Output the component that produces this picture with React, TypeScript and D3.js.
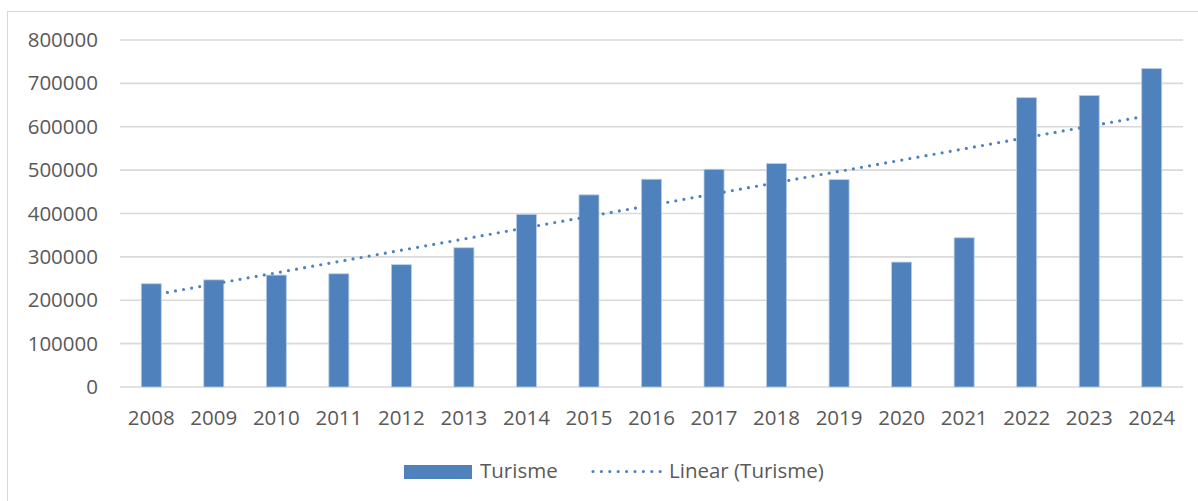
import React, { useRef, useEffect } from "react";
import * as d3 from "d3";

const years = ["2008", "2009", "2010", "2011", "2012", "2013", "2014", "2015", "2016", "2017", "2018", "2019", "2020", "2021", "2022", "2023", "2024"];
const turisme = [238000, 247000, 258000, 261000, 282000, 321000, 398000, 443000, 479000, 502000, 515000, 478000, 288000, 344000, 667000, 672000, 734000];
const yTicks = [0, 100000, 200000, 300000, 400000, 500000, 600000, 700000, 800000];

const seriesName = "Turisme";
const trendName = "Linear (Turisme)";

const App = () => {
   const svgRef = useRef<SVGSVGElement | null>(null);

   useEffect(() => {
      const svg = d3.select(svgRef.current);
      svg.selectAll("*").remove();

      const font = "'Open Sans', 'DejaVu Sans', sans-serif";
      const textColor = "#595959";
      const barColor = "#4F81BD";
      const fs = 20.5;

      // chart frame
      svg.append("rect")
         .attr("x", 7.5)
         .attr("y", 11.5)
         .attr("width", 1210)
         .attr("height", 510)
         .attr("fill", "white")
         .attr("stroke", "#d9d9d9");

      // scales
      const xScale = d3.scaleBand<string>()
         .domain(years)
         .range([120, 1183])
         .paddingInner(0.68)
         .paddingOuter(0.34);
      const yScale = d3.scaleLinear().domain([0, 800000]).range([387, 40]);

      // gridlines
      svg.append("g")
         .selectAll("line")
         .data(yTicks)
         .join("line")
         .attr("x1", 120)
         .attr("x2", 1183)
         .attr("y1", (d) => yScale(d))
         .attr("y2", (d) => yScale(d))
         .attr("stroke", "#d9d9d9")
         .attr("stroke-width", 1.6);

      // y labels
      svg.append("g")
         .selectAll("text")
         .data(yTicks)
         .join("text")
         .attr("x", 98)
         .attr("y", (d) => yScale(d) + 7)
         .attr("text-anchor", "end")
         .attr("font-family", font)
         .attr("font-size", fs)
         .attr("fill", textColor)
         .text((d) => String(d));

      // x labels
      svg.append("g")
         .selectAll("text")
         .data(years)
         .join("text")
         .attr("x", (d) => (xScale(d) ?? 0) + xScale.bandwidth() / 2)
         .attr("y", 425)
         .attr("text-anchor", "middle")
         .attr("font-family", font)
         .attr("font-size", fs)
         .attr("fill", textColor)
         .text((d) => d);

      // bars
      svg.append("g")
         .selectAll("rect")
         .data(turisme)
         .join("rect")
         .attr("x", (d, i) => xScale(years[i]) ?? 0)
         .attr("y", (d) => yScale(d))
         .attr("width", xScale.bandwidth())
         .attr("height", (d) => yScale(0) - yScale(d))
         .attr("fill", barColor)
         .attr("stroke", "#b9cde5")
         .attr("stroke-width", 0.8);

      // linear trendline (least squares over index)
      const n = turisme.length;
      const xm = d3.mean(turisme, (d, i) => i) ?? 0;
      const ym = d3.mean(turisme) ?? 0;
      const slope =
         d3.sum(turisme, (d, i) => (i - xm) * (d - ym)) /
         d3.sum(turisme, (d, i) => (i - xm) * (i - xm));
      const icpt = ym - slope * xm;
      const cx = (i: number) => (xScale(years[i]) ?? 0) + xScale.bandwidth() / 2;
      const line = d3.line<number>()
         .x((d) => cx(d))
         .y((d) => yScale(icpt + slope * d));
      svg.append("path")
         .attr("d", line([0, n - 1]))
         .attr("fill", "none")
         .attr("stroke", barColor)
         .attr("stroke-width", 3.2)
         .attr("stroke-linecap", "round")
         .attr("stroke-dasharray", "0 8.2");

      // legend
      const lg = svg.append("g");
      lg.append("rect")
         .attr("x", 404)
         .attr("y", 465)
         .attr("width", 68)
         .attr("height", 14)
         .attr("fill", barColor);
      lg.append("text")
         .attr("x", 480)
         .attr("y", 478)
         .attr("font-family", font)
         .attr("font-size", fs)
         .attr("fill", textColor)
         .text(seriesName);
      lg.append("line")
         .attr("x1", 593)
         .attr("x2", 662)
         .attr("y1", 471.5)
         .attr("y2", 471.5)
         .attr("stroke", barColor)
         .attr("stroke-width", 3.2)
         .attr("stroke-linecap", "round")
         .attr("stroke-dasharray", "0 8.4");
      lg.append("text")
         .attr("x", 669)
         .attr("y", 478)
         .attr("font-family", font)
         .attr("font-size", fs)
         .attr("fill", textColor)
         .text(trendName);
   }, []);

   return (
      <svg
         ref={svgRef}
         width='1198'
         height='501'
         style={{ position: "absolute", left: 0, top: 0, display: "block" }}
      />
   );
};

export default App;
